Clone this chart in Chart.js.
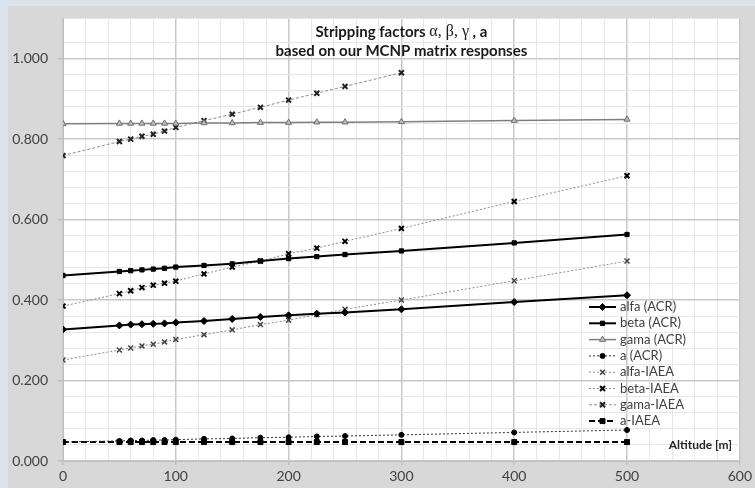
<!DOCTYPE html>
<html>
<head>
<meta charset="utf-8">
<script src="https://cdn.jsdelivr.net/npm/chart.js@4.4.1/dist/chart.umd.min.js"></script>
<style>
  body { margin: 0; background: #dbe3ed; }
  #wrap { width: 755px; height: 488px; }
</style>
</head>
<body>
<div id="wrap"><canvas id="chart"></canvas></div>
<script>
// altitude points [m]
const altitudes = [0, 50, 60, 70, 80, 90, 100, 125, 150, 175, 200, 225, 250, 300, 400, 500];

// stripping factors
const alfaACR = [0.327, 0.337, 0.339, 0.340, 0.341, 0.342, 0.344, 0.348, 0.353, 0.358, 0.362, 0.366, 0.369, 0.377, 0.395, 0.412];
const betaACR = [0.461, 0.471, 0.473, 0.475, 0.477, 0.479, 0.482, 0.486, 0.490, 0.497, 0.503, 0.508, 0.513, 0.522, 0.542, 0.563];
const gamaACR = [0.838, 0.839, 0.839, 0.839, 0.839, 0.839, 0.839, 0.840, 0.840, 0.841, 0.841, 0.842, 0.842, 0.843, 0.846, 0.849];
const aACR = [0.047, 0.050, 0.051, 0.051, 0.052, 0.052, 0.053, 0.055, 0.056, 0.058, 0.059, 0.061, 0.062, 0.065, 0.071, 0.077];
const alfaIAEA = [0.251, 0.276, 0.281, 0.286, 0.290, 0.296, 0.302, 0.314, 0.326, 0.339, 0.350, 0.364, 0.377, 0.400, 0.448, 0.497];
const betaIAEA = [0.385, 0.416, 0.423, 0.431, 0.437, 0.442, 0.447, 0.465, 0.482, 0.497, 0.515, 0.529, 0.546, 0.578, 0.645, 0.709];
const gamaIAEA = [0.759, 0.794, 0.800, 0.807, 0.812, 0.820, 0.829, 0.846, 0.862, 0.879, 0.897, 0.914, 0.931, 0.965];
const aIAEA = [0.047, 0.047, 0.047, 0.047, 0.047, 0.047, 0.047, 0.047, 0.047, 0.047, 0.047, 0.047, 0.047, 0.047, 0.047, 0.047];

const seriesNames = ['alfa (ACR)', 'beta (ACR)', 'gama (ACR)', 'a (ACR)', 'alfa-IAEA', 'beta-IAEA', 'gama-IAEA', 'a-IAEA'];

const titleLine1 = ['Stripping factors ', '\u03B1, \u03B2, \u03B3', ' , a'];
const titleLine2 = 'based on our MCNP matrix responses';
const xAxisTitle = 'Altitude [m]';

const FONT = 'Lato, "Open Sans", sans-serif';

function pts(values) {
  return values.map((v, i) => ({ x: altitudes[i], y: v }));
}

function series(label, values, style) {
  return Object.assign({
    label: label,
    data: pts(values),
    showLine: true,
    fill: false,
    tension: 0,
    pointRadius: 3.5,
    pointHoverRadius: 3.5
  }, style);
}

const datasets = [
  series(seriesNames[0], alfaACR, {
    borderColor: '#000', borderWidth: 2, pointStyle: 'rectRot',
    pointBackgroundColor: '#000', pointBorderColor: '#000', pointBorderWidth: 1
  }),
  series(seriesNames[1], betaACR, {
    borderColor: '#000', borderWidth: 2, pointStyle: 'rect', pointRadius: 3,
    pointBackgroundColor: '#000', pointBorderColor: '#000', pointBorderWidth: 1
  }),
  series(seriesNames[2], gamaACR, {
    borderColor: '#7f7f7f', borderWidth: 1.5, pointStyle: 'triangle',
    pointBackgroundColor: '#bdbdbd', pointBorderColor: '#6f6f6f', pointBorderWidth: 1
  }),
  series(seriesNames[3], aACR, {
    borderColor: '#333', borderWidth: 1, borderDash: [2, 2], pointStyle: 'circle', pointRadius: 2.5,
    pointBackgroundColor: '#000', pointBorderColor: '#000', pointBorderWidth: 1
  }),
  series(seriesNames[4], alfaIAEA, {
    borderColor: '#8c8c8c', borderWidth: 1, borderDash: [2, 2], pointStyle: 'crossRot', pointRadius: 3.5,
    pointBackgroundColor: '#444', pointBorderColor: '#444', pointBorderWidth: 1.5
  }),
  series(seriesNames[5], betaIAEA, {
    borderColor: '#8c8c8c', borderWidth: 1, borderDash: [2, 2], pointStyle: 'crossRot', pointRadius: 3.5,
    pointBackgroundColor: '#000', pointBorderColor: '#000', pointBorderWidth: 2
  }),
  series(seriesNames[6], gamaIAEA, {
    borderColor: '#8c8c8c', borderWidth: 1, borderDash: [3, 2], pointStyle: 'crossRot', pointRadius: 3.5,
    pointBackgroundColor: '#222', pointBorderColor: '#222', pointBorderWidth: 2
  }),
  series(seriesNames[7], aIAEA, {
    borderColor: '#000', borderWidth: 2, borderDash: [6, 3], pointStyle: 'rect', pointRadius: 3.5,
    pointBackgroundColor: '#000', pointBorderColor: '#000', pointBorderWidth: 1
  })
];

function isMajorY(v) {
  return Math.abs(v * 5 - Math.round(v * 5)) < 1e-6;
}
function isMajorX(v) {
  return Math.abs(v % 100) < 1e-6;
}

// panel backgrounds: blue page, grey chart panel, white plot area
const backgroundPlugin = {
  id: 'panels',
  beforeDraw(chart) {
    const ctx = chart.ctx;
    const a = chart.chartArea;
    ctx.save();
    ctx.fillStyle = '#dbe3ed';
    ctx.fillRect(0, 0, chart.width, chart.height);
    ctx.fillStyle = '#d8d8d8';
    ctx.fillRect(8, 6, chart.width - 8, chart.height - 6);
    ctx.fillStyle = '#ffffff';
    ctx.fillRect(a.left, a.top, a.right - a.left, a.bottom - a.top);
    ctx.restore();
  }
};

// title, axis title and the legend inside the plot area
const overlayPlugin = {
  id: 'overlay',
  afterDraw(chart) {
    const ctx = chart.ctx;
    const a = chart.chartArea;
    const cx = (a.left + a.right) / 2;
    ctx.save();
    ctx.fillStyle = '#1a1a1a';
    ctx.textBaseline = 'middle';

    // title line 1 with greek letters in a serif face
    const fonts = ['bold 15px ' + FONT, '16px "Liberation Serif", "DejaVu Serif", serif', 'bold 15px ' + FONT];
    let total = 0;
    const widths = titleLine1.map((s, i) => {
      ctx.font = fonts[i];
      const w = ctx.measureText(s).width;
      total += w;
      return w;
    });
    let x = cx - total / 2;
    ctx.textAlign = 'left';
    titleLine1.forEach((s, i) => {
      ctx.font = fonts[i];
      ctx.fillText(s, x, 32);
      x += widths[i];
    });
    ctx.font = 'bold 15px ' + FONT;
    ctx.textAlign = 'center';
    ctx.fillText(titleLine2, cx, 51);

    // x axis title
    ctx.font = 'bold 12px ' + FONT;
    ctx.textAlign = 'right';
    ctx.fillStyle = '#262626';
    ctx.fillText(xAxisTitle, 732, 445);

    // legend
    const lx0 = 589, lx1 = 616, tx = 620;
    let y = 307;
    chart.data.datasets.forEach(ds => {
      ctx.save();
      ctx.strokeStyle = ds.borderColor;
      ctx.lineWidth = ds.borderWidth;
      ctx.setLineDash(ds.borderDash || []);
      ctx.beginPath();
      ctx.moveTo(lx0, y);
      ctx.lineTo(lx1, y);
      ctx.stroke();
      ctx.setLineDash([]);
      ctx.fillStyle = ds.pointBackgroundColor;
      ctx.strokeStyle = ds.pointBorderColor;
      ctx.lineWidth = ds.pointBorderWidth;
      Chart.helpers.drawPoint(ctx, {
        pointStyle: ds.pointStyle,
        radius: ds.pointRadius,
        rotation: 0,
        borderWidth: ds.pointBorderWidth
      }, (lx0 + lx1) / 2, y);
      ctx.restore();
      ctx.font = '13px ' + FONT;
      ctx.fillStyle = '#404040';
      ctx.textAlign = 'left';
      ctx.fillText(ds.label, tx, y);
      y += 16.3;
    });
    ctx.restore();
  }
};

new Chart(document.getElementById('chart'), {
  type: 'scatter',
  data: { datasets: datasets },
  plugins: [backgroundPlugin, overlayPlugin],
  options: {
    responsive: true,
    maintainAspectRatio: false,
    animation: false,
    devicePixelRatio: 1,
    layout: { padding: { left: 8, right: 15, top: 15, bottom: 0 } },
    plugins: {
      legend: { display: false },
      title: { display: false },
      tooltip: { enabled: false }
    },
    scales: {
      x: {
        type: 'linear',
        min: 0,
        max: 600,
        afterFit: scale => { scale.height = 27; },
        border: { color: '#bfbfbf', width: 1 },
        grid: {
          color: c => isMajorX(c.tick.value) ? '#c8c8c8' : '#e6e6e6',
          lineWidth: c => isMajorX(c.tick.value) ? 1.5 : 1,
          tickColor: c => isMajorX(c.tick.value) ? '#bfbfbf' : 'rgba(0,0,0,0)',
          tickLength: 4
        },
        ticks: {
          stepSize: 20,
          autoSkip: false,
          maxRotation: 0,
          padding: 3,
          color: '#404040',
          font: { family: FONT, size: 14 },
          callback: v => isMajorX(v) ? String(Math.round(v)) : ''
        }
      },
      y: {
        min: 0,
        max: 1.1,
        afterFit: scale => { scale.width = 55; },
        border: { color: '#bfbfbf', width: 1 },
        grid: {
          color: c => isMajorY(c.tick.value) ? '#c8c8c8' : '#e6e6e6',
          lineWidth: c => isMajorY(c.tick.value) ? 1.5 : 1,
          tickColor: c => isMajorY(c.tick.value) ? '#bfbfbf' : 'rgba(0,0,0,0)',
          tickLength: 5
        },
        ticks: {
          stepSize: 0.04,
          autoSkip: false,
          padding: 10,
          color: '#404040',
          font: { family: FONT, size: 14 },
          callback: v => isMajorY(v) ? v.toFixed(3) : ''
        }
      }
    }
  }
});
</script>
</body>
</html>
